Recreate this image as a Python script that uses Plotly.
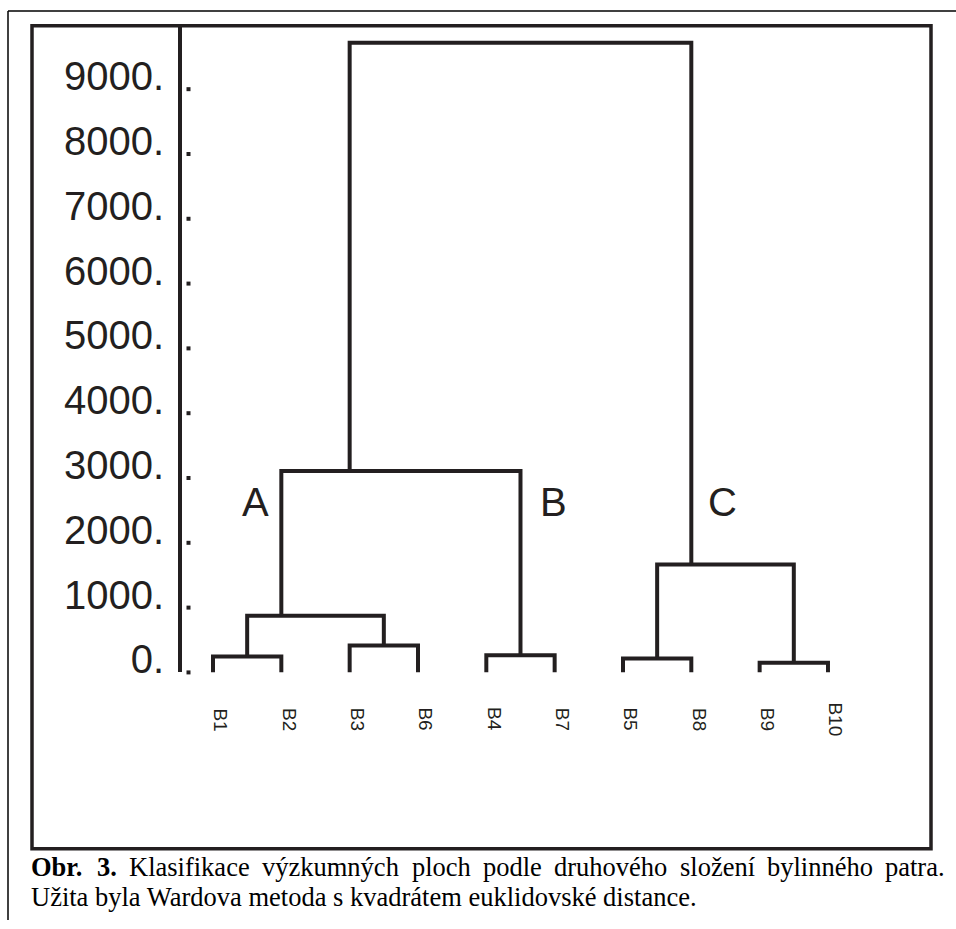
import math
import plotly.graph_objects as go

# ---- data -------------------------------------------------------------
# Leaves in dendrogram order
leaves = ["B1", "B2", "B3", "B6", "B4", "B7", "B5", "B8", "B9", "B10"]

# Ward linkage (squared Euclidean distance): merge k is called "m<k>"
merge_left = ["B1", "B3", "m1", "B4", "m3", "B5", "B9", "m6", "m5"]
merge_right = ["B2", "B6", "m2", "B7", "m4", "B8", "B10", "m7", "m8"]
merge_height = [245, 415, 875, 265, 3110, 215, 150, 1665, 9715]

# Named clusters and the merge that defines each of them
cluster_names = ["A", "B", "C"]
cluster_nodes = ["m3", "m4", "m8"]

# Distance axis
tick_values = [0, 1000, 2000, 3000, 4000, 5000, 6000, 7000, 8000, 9000]
tick_text = ["0.", "1000.", "2000.", "3000.", "4000.", "5000.",
             "6000.", "7000.", "8000.", "9000."]

caption_line1 = ["<b>Obr.</b>", "<b>3.</b>", "Klasifikace", "výzkumných", "ploch",
                 "podle", "druhového", "složení", "bylinného", "patra."]
caption_line2 = "Užita byla Wardova metoda s kvadrátem euklidovské distance."

# ---- page geometry (pixels) ------------------------------------------
W, H = 956, 929
LEAF0_PX, LEAF_STEP_PX = 213.0, 68.33
BASE_PX, TOP_PX, PX_PER_UNIT = 679.0, 26.0, 0.06544
AXIS_PX = 180.0
INK = "#231f20"
SANS = "Liberation Sans, Arial, sans-serif"
SERIF = "Liberation Serif, Times New Roman, serif"
CAPTION_SIZE = 26.5


def px_to_x(px):
    return (px - LEAF0_PX) / LEAF_STEP_PX


def paper_x(px):
    return px / W


def paper_y(py):
    return 1 - py / H


# ---- dendrogram links -------------------------------------------------
pos = {name: float(i) for i, name in enumerate(leaves)}
height = {name: 0.0 for name in leaves}
members = {name: [i] for i, name in enumerate(leaves)}

link_x, link_y = [], []
for k, (left, right, h) in enumerate(zip(merge_left, merge_right, merge_height), start=1):
    node = f"m{k}"
    link_x += [pos[left], pos[left], pos[right], pos[right], None]
    link_y += [height[left], h, h, height[right], None]
    mem = members[left] + members[right]
    members[node] = mem
    height[node] = h
    centre = sum(mem) / len(mem)
    # pairs rise from their midpoint, larger groups from the leaf left of centre
    pos[node] = centre if len(mem) == 2 else float(math.floor(centre))

fig = go.Figure()
fig.add_trace(go.Scatter(
    x=link_x, y=link_y, mode="lines",
    line=dict(color=INK, width=4),
    hoverinfo="skip", showlegend=False, cliponaxis=False,
))

# small square tick marks just right of the distance axis
fig.add_trace(go.Scatter(
    x=[px_to_x(AXIS_PX + 8.5)] * len(tick_values), y=tick_values,
    mode="markers", marker=dict(symbol="square", size=4, color=INK),
    hoverinfo="skip", showlegend=False, cliponaxis=False,
))

annotations = []
# leaf labels, rotated
for name in leaves:
    annotations.append(dict(
        x=pos[name], y=0, xref="x", yref="y", text=name, textangle=90,
        showarrow=False, xshift=8, yshift=-47,
        font=dict(family=SANS, size=19, color=INK),
    ))

# cluster labels beside their stems
label_side = {"A": ("right", -10), "B": ("left", 18), "C": ("left", 15)}
for name, node in zip(cluster_names, cluster_nodes):
    anchor, shift = label_side[name]
    annotations.append(dict(
        x=pos[node], y=2628, xref="x", yref="y", text=name,
        xanchor=anchor, xshift=shift, showarrow=False,
        font=dict(family=SANS, size=40, color=INK),
    ))

# justified first caption line, word by word; second line left-aligned
line1_px = [29, 95, 127, 260, 410, 481, 552, 678, 765, 883]
for word, sx in zip(caption_line1, line1_px):
    annotations.append(dict(
        x=paper_x(sx), y=paper_y(875), xref="paper", yref="paper",
        text=word, xanchor="left", yanchor="middle", showarrow=False,
        font=dict(family=SERIF, size=CAPTION_SIZE, color="#000000"),
    ))
annotations.append(dict(
    x=paper_x(29), y=paper_y(906), xref="paper", yref="paper",
    text=caption_line2, xanchor="left", yanchor="middle", showarrow=False,
    font=dict(family=SERIF, size=CAPTION_SIZE, color="#000000"),
))

shapes = [
    # thin outer frame (top and left edges)
    dict(type="line", xref="paper", yref="paper",
         x0=paper_x(8), x1=1.0, y0=paper_y(11), y1=paper_y(11),
         line=dict(color="#000000", width=1.5)),
    dict(type="line", xref="paper", yref="paper",
         x0=paper_x(8), x1=paper_x(8), y0=paper_y(11), y1=0.0,
         line=dict(color="#000000", width=1.5)),
    # heavy figure box
    dict(type="rect", xref="paper", yref="paper",
         x0=paper_x(32), x1=paper_x(931), y0=paper_y(26), y1=paper_y(857),
         line=dict(color=INK, width=3.5), fillcolor="rgba(0,0,0,0)"),
]

fig.update_layout(
    width=W, height=H, autosize=False, margin=dict(l=0, r=0, t=0, b=0, pad=0),
    paper_bgcolor="white", plot_bgcolor="white",
    xaxis=dict(domain=[0, 1], range=[px_to_x(0), px_to_x(W)], visible=False),
    yaxis=dict(
        domain=[paper_y(BASE_PX), paper_y(TOP_PX)],
        range=[0, (BASE_PX - TOP_PX) / PX_PER_UNIT],
        anchor="free", position=paper_x(AXIS_PX),
        showline=True, linewidth=4, linecolor=INK,
        showgrid=False, zeroline=False, ticks="",
        tickmode="array", tickvals=tick_values, ticktext=tick_text,
        tickfont=dict(family=SANS, size=40, color=INK),
        ticklabelshift=-13, ticklabelstandoff=6,
    ),
    annotations=annotations, shapes=shapes, showlegend=False,
)

fig.write_html("out.html", config={"responsive": False})
